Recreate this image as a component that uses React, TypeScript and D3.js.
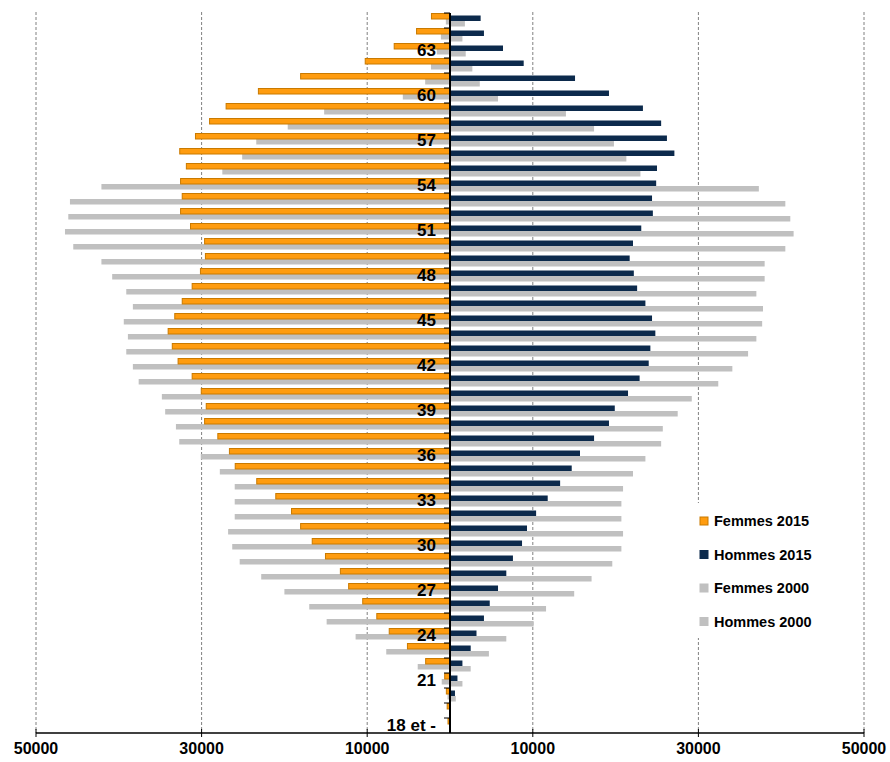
import React from "react";
import * as d3 from "d3";

const WIDTH = 890;
const HEIGHT = 762;
const PLOT = { left: 36, right: 864, top: 13, bottom: 733 };

// age categories, bottom (18 et -) to top
const ages = [
  18, 19, 20, 21, 22, 23, 24, 25, 26, 27, 28, 29, 30, 31, 32, 33,
  34, 35, 36, 37, 38, 39, 40, 41, 42, 43, 44, 45, 46, 47, 48, 49,
  50, 51, 52, 53, 54, 55, 56, 57, 58, 59, 60, 61, 62, 63, 64, 65,
];

// values in thousands, same order as ages
const femmes2015 = [
  0.3, 0.4, 0.5, 0.7, 3.0, 5.2, 7.4, 8.9, 10.6, 12.3, 13.3, 15.1, 16.7, 18.1, 19.2, 21.1,
  23.4, 26.0, 26.7, 28.1, 29.7, 29.5, 30.1, 31.2, 32.9, 33.6, 34.1, 33.3, 32.4, 31.2, 30.2, 29.6,
  29.7, 31.4, 32.6, 32.4, 32.6, 31.9, 32.7, 30.8, 29.1, 27.1, 23.2, 18.1, 10.3, 6.8, 4.1, 2.3,
];
const hommes2015 = [
  0, 0, 0.6, 0.9, 1.5, 2.5, 3.2, 4.1, 4.8, 5.8, 6.8, 7.6, 8.7, 9.3, 10.4, 11.8,
  13.3, 14.7, 15.7, 17.4, 19.2, 19.9, 21.5, 22.9, 24.0, 24.2, 24.8, 24.4, 23.6, 22.6, 22.2, 21.7,
  22.1, 23.1, 24.5, 24.4, 24.9, 25.0, 27.1, 26.2, 25.5, 23.3, 19.2, 15.1, 8.9, 6.4, 4.1, 3.7,
];
const femmes2000 = [
  0, 0.1, 0.3, 1.0, 3.9, 7.7, 11.4, 14.9, 17.0, 20.0, 22.8, 25.4, 26.3, 26.8, 26.0, 26.0,
  26.0, 27.8, 30.1, 32.7, 33.1, 34.4, 34.8, 37.6, 38.3, 39.1, 38.9, 39.4, 38.3, 39.1, 40.8, 42.1,
  45.5, 46.5, 46.1, 45.9, 42.1, 27.5, 25.1, 23.4, 19.6, 15.2, 5.7, 3.0, 2.3, 1.6, 1.1, 0.5,
];
const hommes2000 = [
  0, 0, 0.7, 1.5, 2.5, 4.7, 6.8, 10.1, 11.6, 15.0, 17.1, 19.6, 20.7, 20.9, 20.7, 20.7,
  20.9, 22.1, 23.6, 25.5, 25.7, 27.5, 29.2, 32.4, 34.1, 36.0, 37.0, 37.7, 37.8, 37.0, 38.0, 38.0,
  40.5, 41.5, 41.1, 40.5, 37.3, 23.0, 21.3, 19.8, 17.4, 14.0, 5.8, 3.6, 2.7, 1.9, 1.5, 1.8,
];

const xTicks = [-50000, -30000, -10000, 10000, 30000, 50000];
const labelAges = [18, 21, 24, 27, 30, 33, 36, 39, 42, 45, 48, 51, 54, 57, 60, 63];

const legendItems = [
  { label: "Femmes 2015", color: "#FF9C0F", stroke: "#C97A00" },
  { label: "Hommes 2015", color: "#0C2A4C", stroke: "#0C2A4C" },
  { label: "Femmes 2000", color: "#C0C0C0", stroke: "#C0C0C0" },
  { label: "Hommes 2000", color: "#C0C0C0", stroke: "#C0C0C0" },
];

const FONT = "Arial, 'Liberation Sans', sans-serif";

const App = () => {
  const x = d3.scaleLinear().domain([-50000, 50000]).range([PLOT.left, PLOT.right]);
  const y = d3
    .scaleBand<number>()
    .domain([...ages].reverse())
    .range([PLOT.top, PLOT.bottom])
    .padding(0);
  const x0 = x(0);

  const grayLeft = ages.map((a, i) => {
    const v = femmes2000[i] * 1000;
    return (
      <rect key={"gl" + a} x={x(-v)} y={(y(a) ?? 0) + 6} width={x0 - x(-v)} height={5.5} fill="#C0C0C0" />
    );
  });
  const grayRight = ages.map((a, i) => {
    const v = hommes2000[i] * 1000;
    return (
      <rect key={"gr" + a} x={x0} y={(y(a) ?? 0) + 8} width={x(v) - x0} height={5.5} fill="#C0C0C0" />
    );
  });
  const orange = ages.map((a, i) => {
    const v = femmes2015[i] * 1000;
    return (
      <rect
        key={"o" + a}
        x={x(-v) + 0.5}
        y={(y(a) ?? 0) + 0.5}
        width={Math.max(0, x0 - x(-v) - 0.5)}
        height={5.5}
        fill="#FF9C0F"
        stroke="#C97A00"
        strokeWidth={1}
      />
    );
  });
  const navy = ages.map((a, i) => {
    const v = hommes2015[i] * 1000;
    return (
      <rect key={"n" + a} x={x0} y={(y(a) ?? 0) + 2.5} width={x(v) - x0} height={5.5} fill="#0C2A4C" />
    );
  });

  const bandTicks = ages.map((a) => (
    <line key={"t" + a} x1={x0 - 6} x2={x0} y1={y(a) ?? 0} y2={y(a) ?? 0} stroke="#000" strokeWidth={1} />
  ));

  return (
    <svg width={WIDTH} height={HEIGHT} style={{ position: "absolute", left: 0, top: 0, background: "#fff" }}>
      {/* dashed gridlines */}
      {xTicks.map((t) => (
        <line
          key={"g" + t}
          x1={x(t)}
          x2={x(t)}
          y1={PLOT.top - 1}
          y2={PLOT.bottom}
          stroke="#808080"
          strokeWidth={1}
          strokeDasharray="3,2"
        />
      ))}

      {grayLeft}
      {grayRight}
      {orange}
      {navy}

      {/* center axis */}
      <line x1={x0} x2={x0} y1={PLOT.top} y2={PLOT.bottom} stroke="#000" strokeWidth={2} />
      {bandTicks}

      {/* bottom axis */}
      <line x1={PLOT.left} x2={PLOT.right} y1={PLOT.bottom} y2={PLOT.bottom} stroke="#000" strokeWidth={1.5} />
      {xTicks.map((t) => (
        <g key={"xt" + t}>
          <line x1={x(t)} x2={x(t)} y1={PLOT.bottom - 4} y2={PLOT.bottom + 4} stroke="#000" strokeWidth={1} />
          <text
            x={x(t)}
            y={PLOT.bottom + 15}
            dy="0.35em"
            textAnchor="middle"
            fontFamily={FONT}
            fontWeight="bold"
            fontSize={16}
            fill="#000"
          >
            {Math.abs(t)}
          </text>
        </g>
      ))}

      {/* age labels */}
      {labelAges.map((a) => (
        <text
          key={"al" + a}
          x={436}
          y={(y(a) ?? 0) + y.bandwidth() / 2}
          dy="0.35em"
          textAnchor="end"
          fontFamily={FONT}
          fontWeight="bold"
          fontSize={17}
          fill="#000"
        >
          {a === 18 ? "18 et -" : a}
        </text>
      ))}

      {/* legend */}
      <rect x={690} y={503} width={145} height={135} fill="#fff" />
      {legendItems.map((d, i) => {
        const cy = 521 + i * 33.5;
        return (
          <g key={d.label}>
            <rect x={700} y={cy - 4} width={8} height={8} fill={d.color} stroke={d.stroke} strokeWidth={1} />
            <text x={714} y={cy} dy="0.35em" fontFamily={FONT} fontWeight="bold" fontSize={14.5} fill="#000">
              {d.label}
            </text>
          </g>
        );
      })}
    </svg>
  );
};

export default App;
